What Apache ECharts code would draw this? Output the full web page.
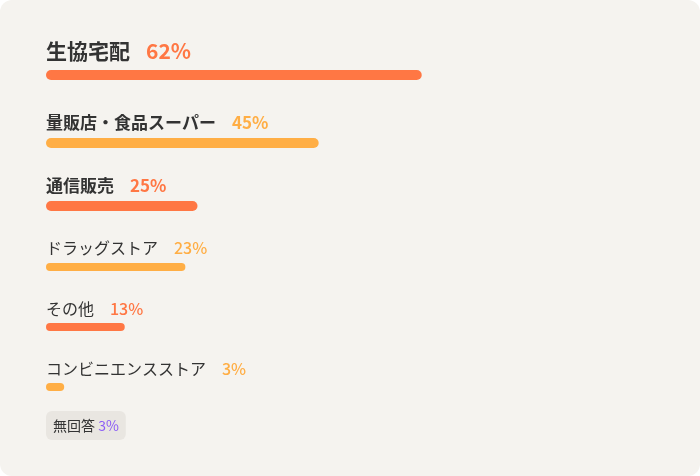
<!DOCTYPE html>
<html>
<head>
<meta charset="utf-8">
<script src="https://cdn.jsdelivr.net/npm/echarts@6/dist/echarts.min.js"></script>
<style>
  html, body { margin: 0; padding: 0; background: #ffffff; }
  #chart { width: 700px; height: 476px; }
</style>
</head>
<body>
<div id="chart"></div>
<script>
// 購入先 (%)
const categories = ['生協宅配', '量販店・食品スーパー', '通信販売', 'ドラッグストア', 'その他', 'コンビニエンスストア'];
const values = [62, 45, 25, 23, 13, 3];
const noAnswerLabel = '無回答';
const noAnswerValue = 3;

const ORANGE = '#ff7744';
const AMBER = '#ffae45';

// row layout
const barTops = [70, 138, 201, 263, 323, 383];
const barHeights = [10, 10, 10, 8, 8, 8];
const labelOffsets = [-19, -15, -15, -15, -14, -14];
const fontSizes = [21, 17, 17, 16, 16, 16];

const grids = [], xAxes = [], yAxes = [], series = [];
categories.forEach(function (name, i) {
  const strong = i < 3;
  const color = i % 2 === 0 ? ORANGE : AMBER;
  grids.push({ left: 46, width: 606, top: barTops[i], height: barHeights[i] });
  xAxes.push({ gridIndex: i, type: 'value', min: 0, max: 100, show: false });
  yAxes.push({ gridIndex: i, type: 'category', data: [name], show: false });
  series.push({
    type: 'bar',
    xAxisIndex: i,
    yAxisIndex: i,
    barWidth: barHeights[i],
    silent: true,
    data: [values[i]],
    itemStyle: { color: color, borderRadius: barHeights[i] / 2 },
    label: {
      show: true,
      position: [0, labelOffsets[i]],
      align: 'left',
      verticalAlign: 'middle',
      formatter: function () {
        return '{n|' + name + '}{p|' + values[i] + '%}';
      },
      rich: {
        n: {
          fontFamily: 'Noto Sans CJK JP',
          fontSize: fontSizes[i],
          fontWeight: strong ? 'bold' : 'normal',
          color: '#333333'
        },
        p: {
          fontFamily: 'Noto Sans CJK JP',
          fontSize: fontSizes[i],
          fontWeight: strong ? 'bold' : 500,
          color: color,
          padding: [0, 0, 0, 16]
        }
      }
    }
  });
});

const chart = echarts.init(document.getElementById('chart'));
chart.setOption({
  animation: false,
  grid: grids,
  xAxis: xAxes,
  yAxis: yAxes,
  series: series,
  graphic: [
    {
      type: 'rect',
      z: -10,
      shape: { x: 0, y: 0, width: 700, height: 476, r: 12 },
      style: { fill: '#f5f3ef' }
    },
    {
      type: 'text',
      left: 46,
      top: 411,
      style: {
        text: '{n|' + noAnswerLabel + ' }{p|' + noAnswerValue + '%}',
        backgroundColor: '#e9e6e1',
        borderRadius: 6,
        padding: [7, 7, 7, 7],
        rich: {
          n: { fontFamily: 'Noto Sans CJK JP', fontSize: 14, fill: '#333333', lineHeight: 15 },
          p: { fontFamily: 'Noto Sans CJK JP', fontSize: 14, fill: '#8b5cf6', lineHeight: 15 }
        }
      }
    }
  ]
});
</script>
</body>
</html>
